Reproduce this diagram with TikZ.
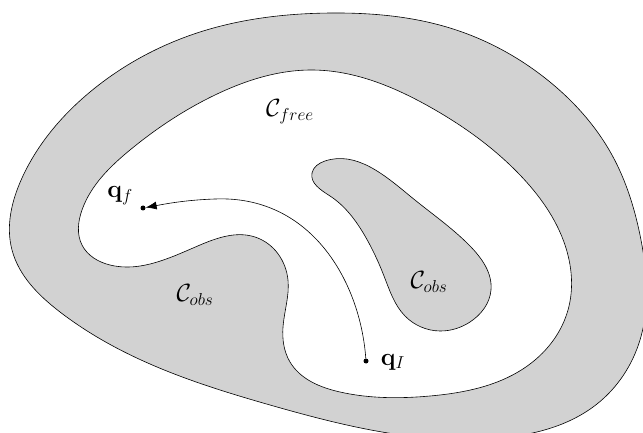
\documentclass[tikz,border=0pt]{standalone}
\usetikzlibrary{arrows.meta,hobby}
\begin{document}
\begin{tikzpicture}[x=1pt,y=-1pt,
  region/.style={draw=black,line width=0.6pt},
  obsfill/.style={region,fill=gray!35},
  freefill/.style={region,fill=white},
  lbl/.style={inner sep=0pt,font=\fontsize{24}{28}\selectfont},
  pt/.style={circle,fill=black,inner sep=0pt,minimum size=5pt},
  pathline/.style={line width=0.6pt,-{Latex[length=11pt,width=8pt]}}]
\useasboundingbox (0,0) rectangle (643,433);
\clip (0,0) rectangle (643,433);
% outer obstacle region
\draw[obsfill,use Hobby shortcut,closed=true]
 (332,13) .. (450,28) .. (550,82) .. (612,155) .. (641,240) .. (640,340)
 .. (597,404) .. (500,438) .. (382,432) .. (270,405) .. (150,364)
 .. (60,312) .. (12,250) .. (22,178) .. (90,92) .. (200,32);
% free space
\draw[freefill,use Hobby shortcut,closed=true]
 (312,70) .. (430,107) .. (520,175) .. (565,245) .. (568,310)
 .. (530,364) .. (430,396) .. (340,392) .. (290,362)
 .. (283,327) .. (288,280) .. (255,237) .. (200,245) .. (110,265)
 .. (82,245) .. (82,210) .. (130,150) .. (215,95);
% inner obstacle
\draw[obsfill,use Hobby shortcut,closed=true]
 (325,161) .. (410,196) .. (470,246) .. (491,290) .. (470,322)
 .. (440,331) .. (405,316) .. (384,276) .. (365,236) .. (330,196) .. (312,173);
% labels
\node[lbl] (cfree) at (290,112) {$\mathcal{C}_{free}$};
\node[lbl] (cobs1) at (195,295) {$\mathcal{C}_{obs}$};
\node[lbl] (cobs2) at (429,282) {$\mathcal{C}_{obs}$};
\node[pt] (qf) at (143,208) {};
\node[pt] (qi) at (366,361) {};
\node[lbl] (qflbl) at (120,196) {$\mathbf{q}_f$};
\node[lbl] (qilbl) at (393,362) {$\mathbf{q}_I$};
\draw[pathline] (qi) .. controls (360,280) and (310,195) .. (215,199)
  .. controls (185,200) and (165,204) .. (qf);
\end{tikzpicture}
\end{document}
